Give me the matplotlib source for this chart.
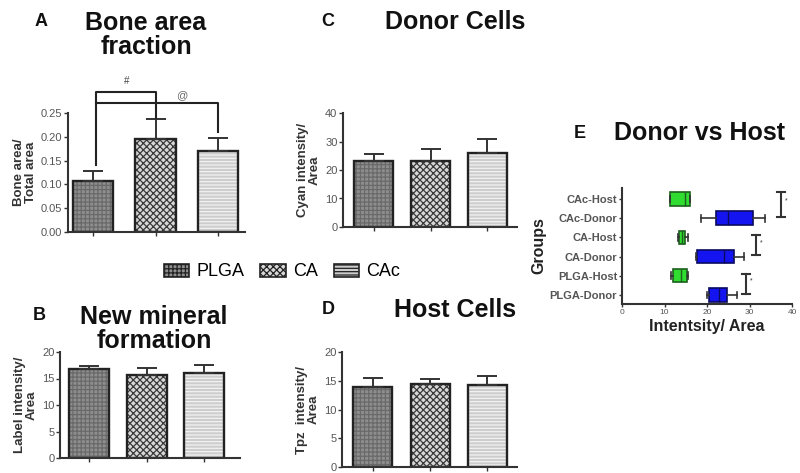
import matplotlib.pyplot as plt
from matplotlib.patches import Patch

plt.rcParams['font.family'] = ['Liberation Sans', 'DejaVu Sans']
plt.rcParams['hatch.linewidth'] = 0.9

groups = ['PLGA', 'CA', 'CAc']

bone_mean = [0.107, 0.195, 0.170]
bone_err = [0.021, 0.042, 0.027]

mineral_mean = [16.8, 15.7, 16.1]
mineral_err = [0.6, 1.3, 1.5]

donor_mean = [23.0, 23.3, 26.0]
donor_err = [2.5, 4.0, 5.0]

host_mean = [14.0, 14.5, 14.2]
host_err = [1.4, 0.8, 1.7]

box_labels = ['PLGA-Donor', 'PLGA-Host', 'CA-Donor', 'CA-Host', 'CAc-Donor', 'CAc-Host']
box_whislo = [19.9, 11.5, 17.5, 13.2, 18.5, 11.3]
box_q1 = [20.5, 11.9, 17.6, 13.4, 22.2, 11.4]
box_med = [22.8, 13.9, 23.9, 14.0, 25.0, 14.8]
box_q3 = [24.8, 15.3, 26.4, 14.9, 30.9, 16.0]
box_whishi = [27.0, 15.5, 28.8, 15.5, 33.6, 16.1]

W, H = 800, 473
fig = plt.figure(figsize=(8, 4.73), dpi=100)


def rect(x0, y_top, x1, y_bot):
    return [x0 / W, 1 - y_bot / H, (x1 - x0) / W, (y_bot - y_top) / H]


def ftext(x, y, s, **kw):
    fig.text(x / W, 1 - y / H, s, ha='center', va='center', **kw)


face = ['#8e8e8e', '#d8d8d8', '#cdcdcd']
hatch_col = ['#6a6a6a', '#3a3a3a', '#f2f2f2']
hatches = ['++++', 'xxxxx', '-----']
spine_col = '#333333'


def bar_panel(ax, means, errs, ymax, yticks, fmt, xlim, width, ylabel):
    x = list(range(len(means)))
    for i in x:
        ax.bar(i, means[i], width, color=face[i], hatch=hatches[i],
               edgecolor=hatch_col[i], linewidth=0)
    ax.bar(x, means, width, fill=False, edgecolor='#222222', linewidth=1.7)
    ax.errorbar(x, means, yerr=[[0] * len(errs), errs], fmt='none',
                ecolor='#333333', elinewidth=1.4, capsize=7, capthick=1.4)
    ax.set_ylim(0, ymax)
    ax.set_xlim(*xlim)
    ax.set_yticks(yticks)
    ax.set_yticklabels([fmt.format(v) for v in yticks], fontsize=8, color='#555555')
    ax.set_xticks(x)
    ax.set_xticklabels([])
    for s in ['top', 'right']:
        ax.spines[s].set_visible(False)
    for s in ['left', 'bottom']:
        ax.spines[s].set_linewidth(1.5)
        ax.spines[s].set_color(spine_col)
    ax.tick_params(length=3, width=1, color=spine_col, pad=1)
    ax.set_ylabel(ylabel, fontsize=9.5, fontweight='bold', color='#333333',
                  linespacing=1.0, labelpad=3)


# Panel A
axA = fig.add_axes(rect(68, 113, 245, 232))
bar_panel(axA, bone_mean, bone_err, 0.25, [0, 0.05, 0.10, 0.15, 0.20, 0.25],
          '{:.2f}', (-0.4, 2.43), 0.65, 'Bone area/\nTotal area')
lk = dict(color='#222222', lw=1.5, clip_on=False)
axA.plot([0.05, 0.05, 1.0, 1.0], [0.141, 0.294, 0.294, 0.240], **lk)
axA.plot([0.05, 2.0, 2.0], [0.270, 0.270, 0.210], **lk)
axA.text(0.54, 0.318, '#', fontsize=7, ha='center', va='center', color='#444444')
axA.text(1.42, 0.288, '@', fontsize=8, ha='center', va='center', color='#666666')

# Panel B
axB = fig.add_axes(rect(60, 352, 240, 458))
bar_panel(axB, mineral_mean, mineral_err, 20, [0, 5, 10, 15, 20],
          '{:d}', (-0.51, 2.62), 0.7, 'Label intensity/\nArea')

# Panel C
axC = fig.add_axes(rect(343, 113, 517, 227))
bar_panel(axC, donor_mean, donor_err, 40, [0, 10, 20, 30, 40],
          '{:d}', (-0.54, 2.52), 0.68, 'Cyan intensity/\nArea')

# Panel D
axD = fig.add_axes(rect(342, 352, 517, 467))
bar_panel(axD, host_mean, host_err, 20, [0, 5, 10, 15, 20],
          '{:d}', (-0.54, 2.52), 0.68, 'Tpz  intensity/\nArea')

# Titles
tk = dict(fontsize=18, fontweight='bold', color='#111111')
lk2 = dict(fontsize=13, fontweight='bold', color='#111111')
ftext(41, 22, 'A', **lk2)
ftext(146, 35, 'Bone area\nfraction', linespacing=1.0, **tk)
ftext(39, 315, 'B', **lk2)
ftext(154, 329, 'New mineral\nformation', linespacing=1.0, **tk)
ftext(328, 22, 'C', **lk2)
ftext(455, 22, 'Donor Cells', **tk)
ftext(328, 310, 'D', **lk2)
ftext(455, 310, 'Host Cells', **tk)
ftext(580, 133, 'E', **lk2)
ftext(699, 133, 'Donor vs Host', **tk)

# Legend
handles = [Patch(facecolor=face[i], hatch=hatches[i], edgecolor='#222222', linewidth=1.2)
           for i in range(3)]
fig.legend(handles, groups, ncol=3, loc='center', bbox_to_anchor=(282 / W, 1 - 272 / H),
           frameon=False, fontsize=13, handlelength=1.4, handleheight=0.75,
           columnspacing=0.9, handletextpad=0.4)

# Panel E
axE = fig.add_axes(rect(622, 188, 792, 304))
stats = []
for i in range(len(box_labels)):
    stats.append(dict(label=box_labels[i], whislo=box_whislo[i], q1=box_q1[i],
                      med=box_med[i], q3=box_q3[i], whishi=box_whishi[i], fliers=[]))
pos = list(range(1, len(box_labels) + 1))
bp = axE.bxp(stats, positions=pos, vert=False, widths=0.7, patch_artist=True,
             showfliers=False)
for i, b in enumerate(bp['boxes']):
    if 'Host' in box_labels[i]:
        b.set_facecolor('#2fdc2f')
        b.set_edgecolor('#1e5e1e')
    else:
        b.set_facecolor('#1414f0')
        b.set_edgecolor('#0a0a60')
    b.set_linewidth(1.2)
for i, m in enumerate(bp['medians']):
    m.set_color('#1e5e1e' if 'Host' in box_labels[i] else '#0a0a60')
    m.set_linewidth(1.0)
for w in bp['whiskers'] + bp['caps']:
    w.set_color('#333333')
    w.set_linewidth(1.2)

sig_x = [29.1, 31.5, 37.4]
sig_lo = [1.04, 3.06, 5.08]
sig_hi = [2.09, 4.10, 6.38]
for i in range(3):
    axE.plot([sig_x[i], sig_x[i]], [sig_lo[i], sig_hi[i]], color='#333333', lw=1.5)
    axE.plot([sig_x[i] - 0.9, sig_x[i] + 0.9], [sig_lo[i]] * 2, color='#333333', lw=1.5)
    axE.plot([sig_x[i] - 0.9, sig_x[i] + 0.9], [sig_hi[i]] * 2, color='#333333', lw=1.5)
    axE.text(sig_x[i] + 1.3, (sig_lo[i] + sig_hi[i]) / 2 + 0.15, '*', fontsize=5,
             ha='center', va='center', color='#333333')

axE.set_xlim(0, 40)
axE.set_ylim(0.53, 6.57)
axE.set_xticks([0, 10, 20, 30, 40])
axE.set_xticklabels(['0', '10', '20', '30', '40'], fontsize=6, color='#555555')
axE.set_yticks(pos)
axE.set_yticklabels(box_labels, fontsize=8, fontweight='bold', color='#555555')
for s in ['top', 'right']:
    axE.spines[s].set_visible(False)
for s in ['left', 'bottom']:
    axE.spines[s].set_linewidth(1.5)
    axE.spines[s].set_color(spine_col)
axE.tick_params(length=2.5, width=1, color=spine_col, pad=1)
axE.set_xlabel('Intentsity/ Area', fontsize=11.5, fontweight='bold', color='#222222', labelpad=2)
axE.set_ylabel('Groups', fontsize=11.5, fontweight='bold', color='#222222', labelpad=2)

fig.savefig('out.png', dpi=100)
